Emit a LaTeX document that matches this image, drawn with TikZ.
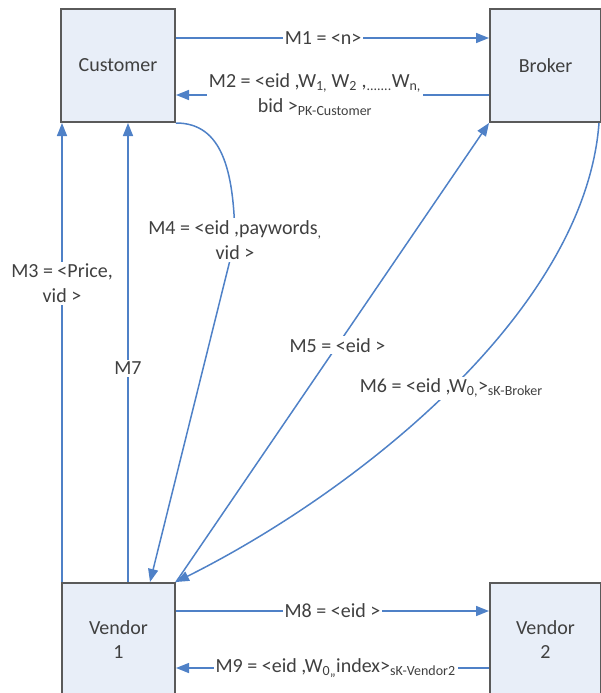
\documentclass[tikz,border=0pt]{standalone}
\usepackage{fontspec}
\setmainfont{Carlito}
\usetikzlibrary{arrows.meta,calc}
\definecolor{boxfill}{HTML}{E8EEF8}
\definecolor{boxdraw}{HTML}{5A5A5A}
\definecolor{arr}{HTML}{4F81C7}
\definecolor{txt}{HTML}{404040}
\begin{document}
\begin{tikzpicture}[x=1pt,y=-1pt,
  box/.style={draw=boxdraw,line width=2pt,fill=boxfill,align=center,text=txt,
    font=\fontsize{20}{24}\selectfont,inner sep=0pt},
  msg/.style={draw=arr,line width=1.5pt,-{Triangle[length=13pt,width=10pt]}},
  lnk/.style={draw=arr,line width=1.5pt},
  lab/.style={fill=white,text=txt,font=\fontsize{20}{25}\selectfont,inner sep=2pt,align=center}]
\useasboundingbox (0,0) rectangle (601,693);
\clip (0,0) rectangle (601,693);
\node[box,minimum width=114pt,minimum height=113pt] (cust) at (118,65.5) {Customer};
\node[box,minimum width=111pt,minimum height=113pt] (brok) at (545.5,65.5) {Broker};
\node[box,minimum width=113pt,minimum height=114pt] (v1) at (118.5,640) {Vendor\\1};
\node[box,minimum width=111pt,minimum height=114pt] (v2) at (545.5,640) {Vendor\\2};
% M1, M2
\draw[msg] (cust.east |- 0,38) -- node[lab,pos=0.47]{M1 = <n>} (brok.west |- 0,38);
\draw[msg] (brok.west |- 0,95) -- node[lab,pos=0.556]{M2 = <eid ,W\textsubscript{1,} W\textsubscript{2} ,\textsubscript{.......}W\textsubscript{n,}\\bid >\textsubscript{PK-Customer}} (cust.east |- 0,95);
% M3, M7
\draw[msg] (62,0 |- v1.north) -- node[lab,pos=0.65]{M3 = <Price,\\vid >} (62,0 |- cust.south);
\draw[msg] (128,0 |- v1.north) -- node[lab,pos=0.466]{M7} (128,0 |- cust.south);
% M4
\draw[msg] (cust.south east) .. controls (222,123) and (234,170) .. (235,240)
  node[lab]{M4 = <eid ,paywords\textsubscript{,}\\vid >} -- (150,0 |- v1.north);
% M5
\draw[msg] (v1.north east) -- node[lab,pos=0.516]{M5 = <eid >} (brok.south west);
% M6
\draw[msg] ($(brok.south east)+(-3,0)$) .. controls (585,310) and (360,490) ..
  node[lab,pos=0.5]{M6 = <eid ,W\textsubscript{0,}>\textsubscript{sK-Broker}} (v1.north east);
% M8, M9
\draw[msg] (v1.east |- 0,611) -- node[lab,pos=0.5]{M8 = <eid >} (v2.west |- 0,611);
\draw[msg] (v2.west |- 0,668) -- node[lab,pos=0.49]{M9 = <eid ,W\textsubscript{0,,}index>\textsubscript{sK-Vendor2}} (v1.east |- 0,668);
\end{tikzpicture}
\end{document}
